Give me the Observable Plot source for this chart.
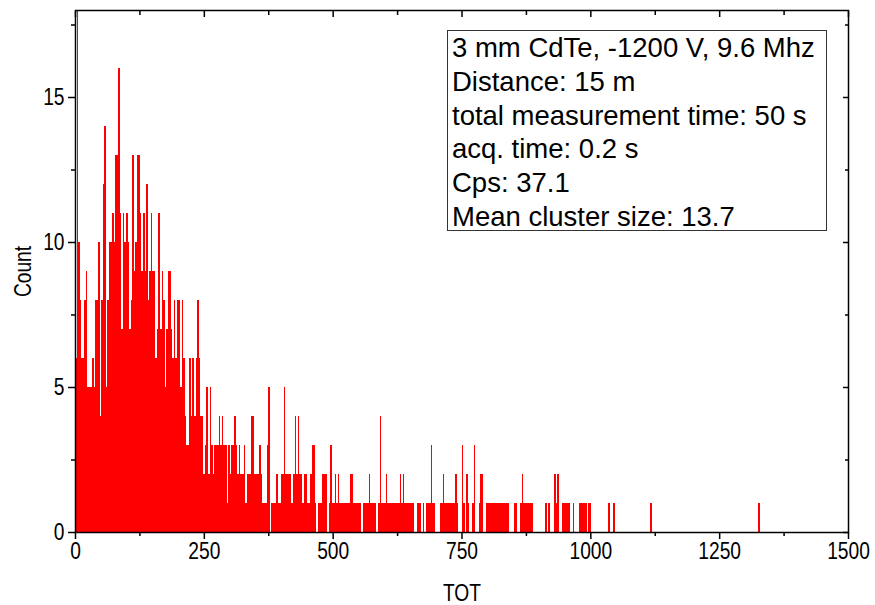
<!DOCTYPE html>
<html><head><meta charset="utf-8">
<script src="https://cdn.jsdelivr.net/npm/d3@7"></script>
<script src="https://cdn.jsdelivr.net/npm/@observablehq/plot@0.6"></script>
<style>
body{margin:0;background:#fff;}
#wrap{position:relative;width:875px;height:605px;}
#box{position:absolute;left:447px;top:30px;width:380px;height:201px;border:1px solid #333;box-sizing:border-box;
 font-family:"Liberation Sans",Arial,sans-serif;font-size:27.5px;line-height:33.8px;padding:0 0 0 4px;color:#000;white-space:nowrap;background:#fff;}
</style></head><body><div id="wrap"><div id="box"></div></div>
<script>
// TOT histogram, bin width 3 TOT units, counts per bin starting at TOT 0
const binWidth = 3;
const counts = [
 6,30,10,8,6,6,8,9,5,5,5,6,5,8,8,10,4,8,12,14,
 5,8,10,10,11,10,13,13,16,11,7,11,10,11,10,7,8,13,9,10,
 13,13,11,9,11,9,12,8,9,11,9,9,6,7,11,7,9,8,5,7,
 9,9,7,6,8,6,8,8,5,8,6,4,3,3,6,4,6,4,6,8,
 6,4,4,2,3,5,2,5,3,2,3,3,3,4,3,4,3,3,1,3,
 2,3,3,4,3,2,3,2,2,3,1,2,2,2,4,4,2,2,2,3,
 2,1,1,1,3,5,0,1,1,1,2,1,1,2,2,5,2,2,2,2,
 1,2,4,2,4,2,2,1,2,2,1,1,2,3,3,1,0,1,1,1,
 2,2,2,0,1,3,1,1,2,1,2,1,1,1,1,1,1,1,2,2,
 1,1,1,1,1,0,1,1,1,1,2,1,1,1,1,0,1,4,1,1,
 1,2,1,1,1,1,1,1,1,1,2,1,2,1,1,1,1,1,1,0,
 0,1,1,1,0,1,0,1,1,1,3,1,1,0,0,0,1,1,2,1,
 1,1,1,1,1,1,2,1,0,0,3,1,0,2,1,0,0,1,3,0,
 0,1,2,2,0,0,1,1,1,1,1,1,1,1,1,1,1,1,1,1,
 1,0,0,0,1,1,0,0,1,2,1,1,1,1,1,1,0,0,0,0,
 0,0,0,0,1,0,1,0,0,0,2,1,2,0,0,1,1,1,1,1,
 0,0,1,0,0,0,1,1,1,1,1,0,1,1,0,0,0,0,0,0,
 0,0,0,0,0,1,0,0,1
];
// isolated events far in the tail
const tailTOT = [1116, 1326];
const tailCounts = [1, 1];

const xTicks = [0, 250, 500, 750, 1000, 1250, 1500];
const xMinor = [125, 375, 625, 875, 1125, 1375];
const yTicks = [0, 5, 10, 15];
const yMinor = [2.5, 7.5, 12.5, 17.5];
const infoLines = [
 "3 mm CdTe, -1200 V, 9.6 Mhz",
 "Distance: 15 m",
 "total measurement time: 50 s",
 "acq. time: 0.2 s",
 "Cps: 37.1",
 "Mean cluster size: 13.7"
];

const bins = counts.map((c, i) => ({x1: i * binWidth, x2: (i + 1) * binWidth, y: c}))
  .concat(tailTOT.map((t, i) => ({x1: t, x2: t + binWidth, y: tailCounts[i]})));

const chart = Plot.plot({
  width: 875, height: 605,
  marginLeft: 75, marginRight: 27, marginTop: 10, marginBottom: 73,
  style: {fontFamily: "'Liberation Sans',Arial,sans-serif", fontSize: "24px", color: "black", background: "white"},
  x: {domain: [0, 1500]},
  y: {domain: [0, 18]},
  marks: [
    Plot.rectY(bins, {x1: "x1", x2: "x2", y: "y", fill: "red", clip: true, shapeRendering: "crispEdges"}),
    Plot.axisX({ticks: xTicks, tickFormat: d => String(d), tickSize: 7, tickPadding: 2, strokeWidth: 1.5, label: "TOT", labelAnchor: "center", labelOffset: 68, labelArrow: false}),
    Plot.axisX({ticks: xMinor, tickSize: 4, strokeWidth: 1.5, fill: "none", label: null}),
    Plot.axisX({anchor: "top", ticks: xTicks, tickSize: 6, dy: 6, strokeWidth: 1.5, fill: "none", label: null}),
    Plot.axisX({anchor: "top", ticks: xMinor, tickSize: 4, dy: 4, strokeWidth: 1.5, fill: "none", label: null}),
    Plot.axisY({ticks: yTicks, tickSize: 7, tickPadding: 4, strokeWidth: 1.5, label: "Count", labelAnchor: "center", labelOffset: 62, labelArrow: false}),
    Plot.axisY({ticks: yMinor, tickSize: 4, strokeWidth: 1.5, fill: "none", label: null}),
    Plot.axisY({anchor: "right", ticks: yTicks, tickSize: 6, dx: -6, strokeWidth: 1.5, fill: "none", label: null}),
    Plot.axisY({anchor: "right", ticks: yMinor, tickSize: 4, dx: -4, strokeWidth: 1.5, fill: "none", label: null}),
    Plot.frame({stroke: "black", strokeWidth: 1.5})
  ]
});
// narrow (condensed) look of the tick labels, as in the original
chart.querySelectorAll('g[aria-label="x-axis tick label"] text, g[aria-label="y-axis tick label"] text, g[aria-label="y-axis label"] text, g[aria-label="x-axis label"] text').forEach(t => {
  const tr = t.getAttribute("transform") || "";
  t.setAttribute("transform", tr + " scale(0.8,1)");
});
const wrap = document.getElementById("wrap");
wrap.insertBefore(chart, wrap.firstChild);
document.getElementById("box").innerHTML = infoLines.map(s => `<div>${s}</div>`).join("");
</script></body></html>
